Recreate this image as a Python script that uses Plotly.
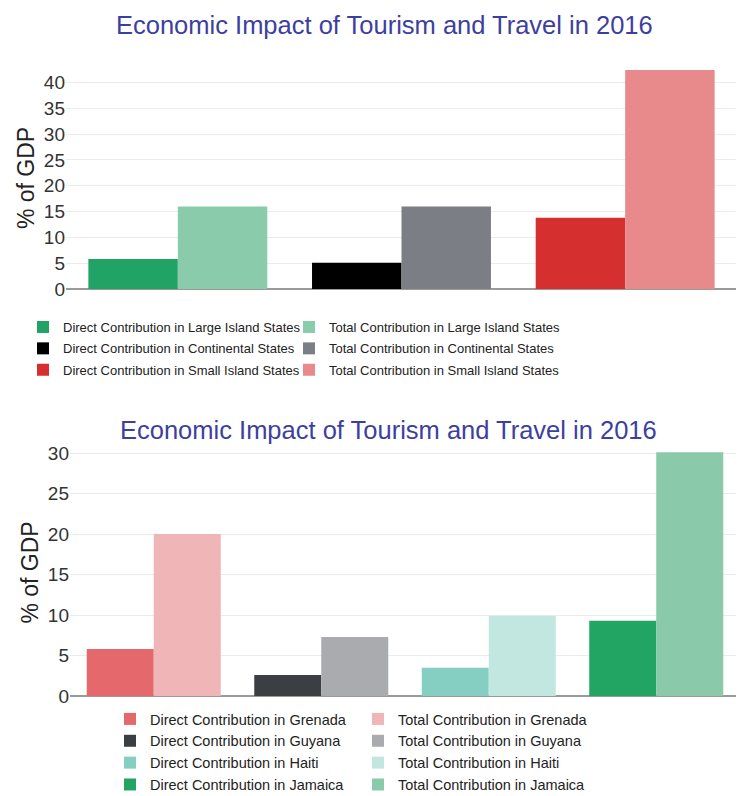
"""
Economic impact of tourism and travel in 2016, two grouped bar charts.
"""

import plotly.graph_objects as go
from plotly.subplots import make_subplots

# Top chart data
state_groups = ["Large Island States", "Continental States", "Small Island States"]
state_direct = [5.8, 5.1, 13.8]
state_total = [16.0, 16.0, 42.4]
state_direct_colors = ["#21a366", "#000000", "#d62f2f"]
state_total_colors = ["#8acbab", "#7b7f85", "#e88a8c"]

# Bottom chart data
countries = ["Grenada", "Guyana", "Haiti", "Jamaica"]
country_direct = [5.8, 2.6, 3.5, 9.3]
country_total = [20.0, 7.3, 9.9, 30.1]
country_direct_colors = ["#e5686c", "#3b3e42", "#84cfc1", "#22a463"]
country_total_colors = ["#efb5b7", "#a9abaf", "#c2e7e1", "#8ac9a9"]

title_text = "Economic Impact of Tourism and Travel in 2016"
font_family = "Arial, Liberation Sans, sans-serif"

# The page body adds 8 px, so positions are given in screen pixels minus 8
W, H, OFF = 744, 796, 8


def px_x(x):
    return (x - OFF) / W


def px_y(y):
    return 1 - (y - OFF) / H


fig = make_subplots(rows = 2, cols = 1)

# Top chart traces, direct ones go to the left legend, totals to the right one
for name, d, t, dc, tc in zip(state_groups, state_direct, state_total,
                              state_direct_colors, state_total_colors):
    fig.add_trace(go.Bar(x = [name], y = [d], name = f"Direct Contribution in {name}",
                         marker_color = dc, offsetgroup = "direct", legend = "legend",
                         legendgroup = f"d_{name}"),
                  row = 1, col = 1)
    fig.add_trace(go.Bar(x = [name], y = [t], name = f"Total Contribution in {name}",
                         marker_color = tc, offsetgroup = "total", legend = "legend2",
                         legendgroup = f"t_{name}"),
                  row = 1, col = 1)

# Bottom chart traces
for name, d, t, dc, tc in zip(countries, country_direct, country_total,
                              country_direct_colors, country_total_colors):
    fig.add_trace(go.Bar(x = [name], y = [d], name = f"Direct Contribution in {name}",
                         marker_color = dc, offsetgroup = "direct", legend = "legend3",
                         legendgroup = f"d_{name}"),
                  row = 2, col = 1)
    fig.add_trace(go.Bar(x = [name], y = [t], name = f"Total Contribution in {name}",
                         marker_color = tc, offsetgroup = "total", legend = "legend4",
                         legendgroup = f"t_{name}"),
                  row = 2, col = 1)

fig.update_traces(marker_line_width = 0)

# Axes
fig.update_xaxes(showticklabels = False, showgrid = False, ticks = "",
                 zeroline = False, automargin = False)
fig.update_xaxes(domain = [px_x(66), px_x(737)], row = 1, col = 1)
fig.update_xaxes(domain = [px_x(70), px_x(740)], row = 2, col = 1)

fig.update_yaxes(showgrid = True, gridcolor = "#ececec", gridwidth = 1,
                 zeroline = True, zerolinecolor = "#9a9a9a", zerolinewidth = 2,
                 tickfont = dict(size = 19, color = "#333333"),
                 title_font = dict(size = 23, color = "#222222"),
                 title_text = "% of GDP", title_standoff = 2,
                 ticks = "", dtick = 5, automargin = False)
fig.update_yaxes(domain = [px_y(289), px_y(67)], range = [0, 43], row = 1, col = 1)
fig.update_yaxes(domain = [px_y(696), px_y(449)], range = [0, 30.5], row = 2, col = 1)

# Titles
for x, y in [(384, 25), (388, 430)]:
    fig.add_annotation(text = title_text, x = px_x(x), y = px_y(y),
                       xref = "paper", yref = "paper", xanchor = "center", yanchor = "middle",
                       showarrow = False, font = dict(size = 25.5, color = "#3d3fa0"))

# Legends, one per column
def legend_at(x, y, size, gap):
    return dict(orientation = "v", x = px_x(x), y = px_y(y),
                xanchor = "left", yanchor = "top", traceorder = "grouped",
                font = dict(size = size, color = "#222222"),
                itemwidth = 30, tracegroupgap = gap, bgcolor = "rgba(0,0,0,0)")


fig.update_layout(width = W, height = H,
                  margin = dict(l = 0, r = 0, t = 0, b = 0, autoexpand = False),
                  plot_bgcolor = "white", paper_bgcolor = "white",
                  font = dict(family = font_family),
                  barmode = "group", bargap = 0.2, bargroupgap = 0,
                  legend = legend_at(23, 312, 13, 1.5),
                  legend2 = legend_at(289, 312, 13, 1.5),
                  legend3 = legend_at(110, 703, 14.5, 0),
                  legend4 = legend_at(358, 703, 14.5, 0))

fig.write_html("out.html")
